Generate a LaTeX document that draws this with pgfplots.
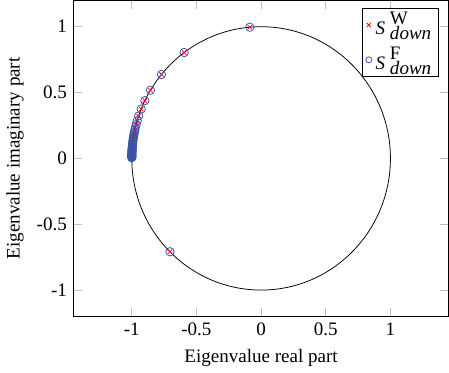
\documentclass[border=0pt]{standalone}
\usepackage{fontspec}
\setmainfont{Liberation Serif}
\usepackage{pgfplots}
\pgfplotsset{compat=1.18}
\usepackage{pgfplotstable}
\definecolor{mblue}{RGB}{55,85,170}
\newcommand{\Sdown}[1]{\textit{S}\hspace{2.5pt}\rlap{\raisebox{5.2pt}{#1}}\raisebox{-2.5pt}{\textit{down}}}
\pgfplotstableread{
re im
-0.0872 0.9962
-0.5948 0.8039
-0.7705 0.6374
-0.8554 0.5180
-0.8988 0.4384
-0.9272 0.3746
-0.9467 0.3223
-0.9583 0.2857
-0.9664 0.2571
-0.9724 0.2334
-0.9769 0.2139
-0.9803 0.1977
-0.9831 0.1831
-0.9853 0.1707
-0.9871 0.1599
-0.9886 0.1504
-0.9909 0.1345
-0.9926 0.1215
-0.9938 0.1109
-0.9952 0.0979
-0.9961 0.0877
-0.9970 0.0771
-0.9976 0.0687
-0.9981 0.0619
-0.9985 0.0551
-0.9988 0.0497
-0.9991 0.0415
-0.9994 0.0356
-0.9995 0.0312
-0.9997 0.0250
-0.9998 0.0209
-0.9999 0.0168
-0.9999 0.0126
-1.0000 0.0087
-1.0000 0.0052
-0.7050 -0.7090
}\eig
\begin{document}
\begin{tikzpicture}
\begin{axis}[
  scale only axis,
  width=197pt, height=166pt,
  xmin=-1.45, xmax=1.45, ymin=-1.2, ymax=1.2,
  xtick={-1,-0.5,0,0.5,1}, ytick={-1,-0.5,0,0.5,1},
  /pgf/number format/assume math mode=true,
  tick style={gray!50, thin},
  tick align=inside,
  xlabel={Eigenvalue real part},
  ylabel={Eigenvalue imaginary part},
  legend cell align=left,
  legend style={at={(rel axis cs:0.975,0.975)}, anchor=north east,
    inner xsep=2pt, inner ysep=0pt, row sep=1pt},
  legend image post style={mark size=1.6pt},
]
\draw[black, thin] (axis cs:0,0) ellipse [x radius=1, y radius=1];
\addplot[only marks, mark=x, red, mark size=1.6pt, thin] table[x=re,y=im]{\eig};
\addlegendentry{\Sdown{W}}
\addplot[only marks, mark=o, mblue, mark size=2.2pt, thin] table[x=re,y=im]{\eig};
\addlegendentry{\Sdown{F}}
\end{axis}
\end{tikzpicture}
\end{document}
